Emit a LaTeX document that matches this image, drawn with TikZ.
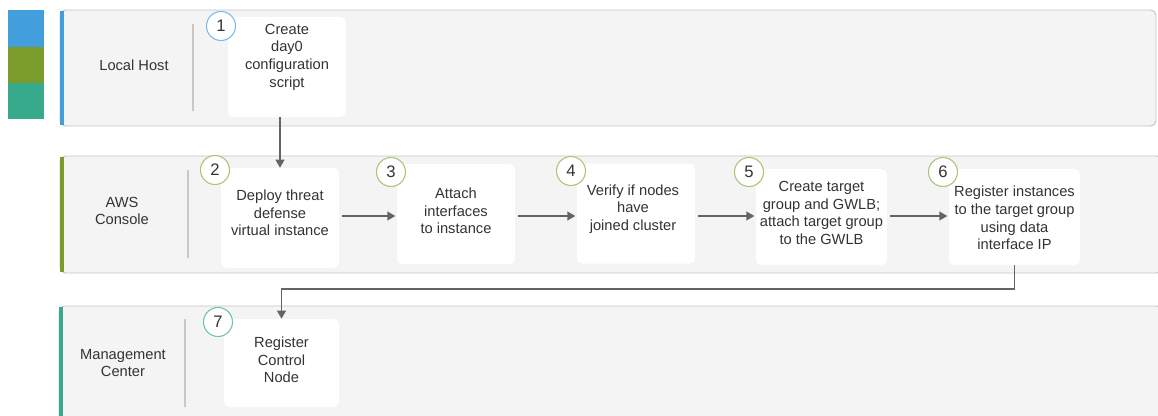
\documentclass[tikz,border=0pt]{standalone}
\usepackage{fontspec}
\setmainfont{Liberation Sans}
\usepackage{xcolor}
\usetikzlibrary{arrows.meta}

\definecolor{hostblue}{HTML}{439FDC}
\definecolor{awsgreen}{HTML}{7B9B2A}
\definecolor{fmcteal}{HTML}{37AA8B}
\definecolor{ringblue}{HTML}{7DBBE8}
\definecolor{ringgreen}{HTML}{A9C777}
\definecolor{ringteal}{HTML}{6CC7A8}
\definecolor{lanegray}{HTML}{F4F4F4}
\definecolor{laneedge}{HTML}{C4C4C4}
\definecolor{divgray}{HTML}{C8C8C8}
\definecolor{textgray}{HTML}{333333}
\definecolor{arrowgray}{HTML}{646464}

\begin{document}
\begin{tikzpicture}[x=0.75pt,y=-0.75pt,
    lane/.style={fill=lanegray, draw=laneedge, line width=0.7pt, rounded corners=4pt},
    stepbox/.style={fill=white, rounded corners=4pt, inner sep=0pt,
        minimum width=88.5pt, minimum height=75pt},
    widebox/.style={stepbox, minimum width=98.25pt, minimum height=72pt},
    steptext/.style={align=center, text=textgray, inner sep=0pt,
        font=\fontsize{11}{13.2}\selectfont},
    lanetext/.style={steptext},
    stepnum/.style={circle, draw=#1, fill=white, line width=0.8pt, inner sep=0pt,
        minimum size=21.75pt, text=textgray, font=\fontsize{12.5}{14}\selectfont},
    flow/.style={draw=arrowgray, line width=1.3pt, -{Triangle[length=6pt,width=6.5pt]}},
    divider/.style={draw=divgray, line width=1.2pt}
]

        \useasboundingbox (0,0) rectangle (1158,415);
        \clip (0,0) rectangle (1158,415);

        % Draw colour legend
        \fill[hostblue] (8,10) rectangle (44,47);
        \fill[awsgreen] (8,47) rectangle (44,83);
        \fill[fmcteal] (8,83) rectangle (44,119);

        % Draw the three lanes
        \draw[lane] (60,10) rectangle (1156,126);
        \draw[lane] (60,156) rectangle (1162,273);
        \draw[lane] (59,306) rectangle (1162,440);
        \draw[hostblue, line width=3pt] (61.5,11) -- (61.5,125);
        \draw[awsgreen, line width=3pt] (61.5,157) -- (61.5,272);
        \draw[fmcteal, line width=3pt] (60.5,307) -- (60.5,420);

        % Lane titles and dividers
        \node[lanetext] (host) at (134,65) {Local Host};
        \node[lanetext] (aws) at (122,211) {AWS\\Console};
        \node[lanetext] (fmc) at (123,363) {Management\\Center};
        \draw[divider] (193,24) -- (193,111);
        \draw[divider] (188,170) -- (188,258);
        \draw[divider] (185,319) -- (185,407);

        % Draw the step boxes
        \node[stepbox] (s1) at (287,67) {};
        \node[stepbox] (s2) at (280,218) {};
        \node[stepbox] (s3) at (456,214) {};
        \node[stepbox] (s4) at (636,213.5) {};
        \node[widebox] (s5) at (821.5,217) {};
        \node[widebox] (s6) at (1014.5,217) {};
        \node[stepbox, minimum width=86.25pt, minimum height=66pt] (s7) at (281.5,363) {};

        % Step texts
        \node[steptext] (t1) at (287,57) {Create\\day0\\configuration\\script};
        \node[steptext] (t2) at (280,213) {Deploy threat\\defense\\virtual instance};
        \node[steptext] (t3) at (456,211) {Attach\\interfaces\\to instance};
        \node[steptext] (t4) at (633,209) {Verify if nodes\\have\\joined cluster};
        \node[steptext] (t5) at (821.5,213) {Create target\\group and GWLB;\\attach target group\\to the GWLB};
        \node[steptext] (t6) at (1014.5,218) {Register instances\\to the target group\\using data\\interface IP};
        \node[steptext] (t7) at (281.5,360) {Register\\Control\\Node};

        % Step numbers
        \node[stepnum=ringblue] (n1) at (221,26) {1};
        \node[stepnum=ringgreen] (n2) at (215,170) {2};
        \node[stepnum=ringgreen] (n3) at (391,172) {3};
        \node[stepnum=ringgreen] (n4) at (571,171) {4};
        \node[stepnum=ringgreen] (n5) at (749,172) {5};
        \node[stepnum=ringgreen] (n6) at (943,172) {6};
        \node[stepnum=ringteal] (n7) at (218,322) {7};

        % Draw the flow between the steps
        \draw[flow] (s2.north |- s1.south) -- (s2.north);
        \draw[flow, shorten <=2pt, shorten >=1pt] (s2.east |- 0,216) -- (s3.west |- 0,216);
        \draw[flow, shorten <=2pt, shorten >=1pt] (s3.east |- 0,216) -- (s4.west |- 0,216);
        \draw[flow, shorten <=2pt, shorten >=1pt] (s4.east |- 0,216) -- (s5.west |- 0,216);
        \draw[flow, shorten <=2pt, shorten >=1pt] (s5.east |- 0,216) -- (s6.west |- 0,216);
        \draw[flow] (s6.south) -- ++(0,24) -| (s7.north);

    \end{tikzpicture}
\end{document}
